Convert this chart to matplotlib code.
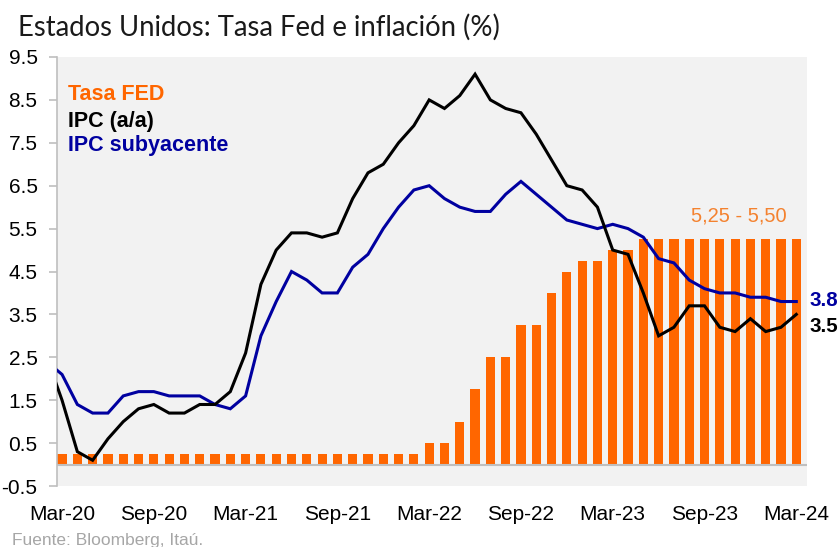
import matplotlib
matplotlib.use("Agg")
import matplotlib.pyplot as plt
import numpy as np

# Months Feb-20 .. Mar-24 (index -1 = Feb-20, 0 = Mar-20, ..., 48 = Mar-24)
tick_labels = ["Mar-20", "Sep-20", "Mar-21", "Sep-21", "Mar-22", "Sep-22", "Mar-23", "Sep-23", "Mar-24"]

# IPC (a/a), Feb-20 .. Mar-24
ipc = [2.5, 1.5, 0.3, 0.1, 0.6, 1.0, 1.3, 1.4, 1.2, 1.2, 1.4, 1.4, 1.7,
       2.6, 4.2, 5.0, 5.4, 5.4, 5.3, 5.4, 6.2, 6.8, 7.0, 7.5, 7.9,
       8.5, 8.3, 8.6, 9.1, 8.5, 8.3, 8.2, 7.7, 7.1, 6.5, 6.4, 6.0,
       5.0, 4.9, 4.0, 3.0, 3.2, 3.7, 3.7, 3.2, 3.1, 3.4, 3.1, 3.2, 3.5]
# IPC subyacente, Feb-20 .. Mar-24
core = [2.4, 2.1, 1.4, 1.2, 1.2, 1.6, 1.7, 1.7, 1.6, 1.6, 1.6, 1.4, 1.3,
        1.6, 3.0, 3.8, 4.5, 4.3, 4.0, 4.0, 4.6, 4.9, 5.5, 6.0, 6.4,
        6.5, 6.2, 6.0, 5.9, 5.9, 6.3, 6.6, 6.3, 6.0, 5.7, 5.6, 5.5,
        5.6, 5.5, 5.3, 4.8, 4.7, 4.3, 4.1, 4.0, 4.0, 3.9, 3.9, 3.8, 3.8]
# Tasa FED, Mar-20 .. Mar-24
fed = [0.25] * 24 + [0.5, 0.5, 1.0, 1.75, 2.5, 2.5, 3.25, 3.25, 4.0, 4.5,
                     4.75, 4.75, 5.0, 5.0] + [5.25] * 11

x_lines = np.arange(-1, len(ipc) - 1)
x_bars = np.arange(len(fed))
tick_pos = np.arange(0, 49, 6)

ORANGE = "#FF6600"
BLUE = "#0000A0"

plt.rcParams['font.family'] = ['Liberation Sans', 'DejaVu Sans']

fig = plt.figure(figsize=(8.4, 5.47), dpi=100)
ax = fig.add_axes([57/840, 1-486/547, (807-57)/840, (486-57)/547])
ax.set_facecolor("#F2F2F2")

ax.bar(x_bars, fed, width=0.6, color=ORANGE, zorder=2)
ax.axhline(0, color="#BFBFBF", lw=1.5, zorder=3)
ax.plot(x_lines, core, color=BLUE, lw=2.2, zorder=4, solid_joinstyle='miter')
ax.plot(x_lines, ipc, color="black", lw=2.2, zorder=5, solid_joinstyle='miter')

ax.set_xlim(-0.33, 48.7)
ax.set_ylim(-0.5, 9.5)
ax.set_yticks(np.arange(-0.5, 9.6, 1.0))
ax.set_yticklabels([f"{v:.1f}" for v in np.arange(-0.5, 9.6, 1.0)])
ax.set_xticks(tick_pos)
ax.set_xticklabels(tick_labels)

for s in ["top", "right", "bottom"]:
    ax.spines[s].set_visible(False)
ax.spines["left"].set_color("#BFBFBF")
ax.spines["left"].set_linewidth(1.2)
ax.tick_params(axis="y", length=6, color="#BFBFBF", width=1.2, labelsize=15, pad=8, labelcolor="black")
ax.tick_params(axis="x", length=0, labelsize=15, pad=14, labelcolor="black")

# Legend-like labels
fig.text(68/840, 1-94/547, "Tasa FED", color=ORANGE, fontsize=15.5, fontweight="bold", va="center", ha="left")
fig.text(68/840, 1-122/547, "IPC (a/a)", color="black", fontsize=15.5, fontweight="bold", va="center", ha="left")
fig.text(68/840, 1-145/547, "IPC subyacente", color=BLUE, fontsize=15.5, fontweight="bold", va="center", ha="left")

# Annotations
fig.text(739/840, 1-216/547, "5,25 - 5,50", color="#F4822F", fontsize=14.5, va="center", ha="center")
fig.text(810/840, 1-300/547, f"{core[-1]:.1f}", color=BLUE, fontsize=14.8, fontweight="bold", va="center", ha="left")
fig.text(810/840, 1-326/547, f"{ipc[-1]:.1f}", color="black", fontsize=14.8, fontweight="bold", va="center", ha="left")

# Title and source
fig.text(18/840, 1-27/547, "Estados Unidos: Tasa Fed e inflación (%)", fontsize=19.8,
         family=["Lato", "DejaVu Sans"], color="#1a1a1a", va="center", ha="left")
fig.text(12/840, 1-540/547, "Fuente: Bloomberg, Itaú.", fontsize=12.5, color="#A6A6A6", va="center", ha="left")

fig.savefig("out.png", dpi=100)
